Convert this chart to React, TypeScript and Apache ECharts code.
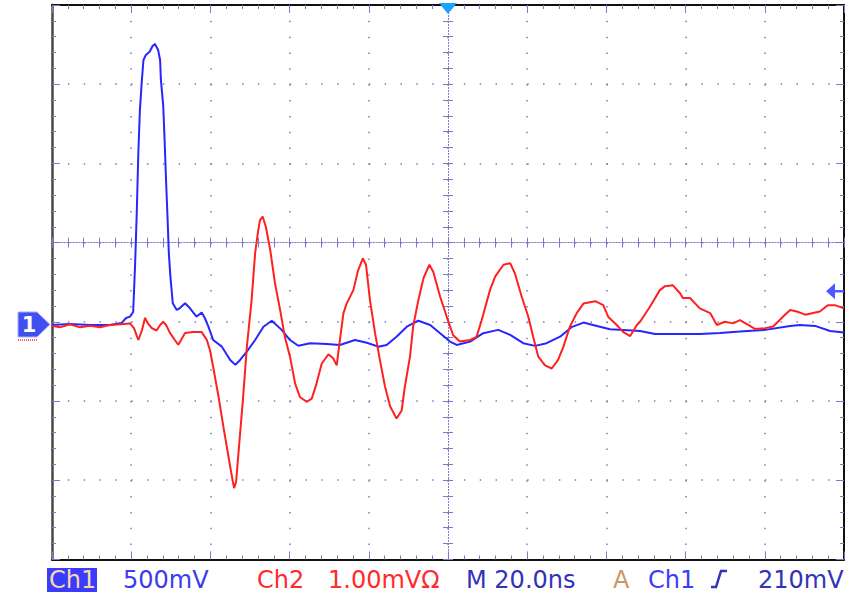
import React, { useEffect, useRef } from "react";
import * as echarts from "echarts";

// Channel 1 (blue, 500 mV/div) — time in ns, value in mV relative to its ground
const ch1Time = [0, 4.5, 9.6, 14.6, 17.6, 18.7, 19.7, 20.5, 21.0, 21.4, 21.8, 22.2, 22.7, 23.1, 23.7, 24.7, 25.4, 26.0, 26.8, 27.3, 27.5, 28.1, 28.4, 28.8, 29.2, 29.5, 29.9, 30.5, 31.5, 32.3, 33.6, 34.8, 36.5, 37.8, 38.6, 39.5, 40.7, 42.9, 45.0, 46.3, 47.5, 49.2, 51.3, 53.4, 55.5, 58.0, 60.1, 62.2, 65.2, 69.4, 72.7, 76.5, 79.5, 82.4, 84.5, 87.0, 89.6, 92.5, 95.5, 98.0, 100.5, 102.2, 105.6, 108.9, 112.7, 115.7, 119.0, 122.0, 124.9, 128.3, 131.2, 134.2, 137.6, 140.9, 144.3, 148.5, 152.3, 158.6, 163.6, 168.7, 173.7, 180.1, 186.4, 188.9, 192.7, 196.5, 200];
const ch1mV = [-3, 3, -3, -3, 10, 41, 50, 79, 389, 704, 1083, 1355, 1544, 1670, 1702, 1723, 1758, 1771, 1733, 1670, 1544, 1375, 1186, 911, 659, 452, 302, 134, 92, 104, 134, 104, 50, 75, 41, -14, -98, -140, -224, -255, -224, -171, -98, -14, 24, -34, -98, -134, -118, -123, -129, -98, -115, -140, -129, -77, -14, 24, -3, -55, -108, -129, -108, -55, -34, -66, -118, -135, -118, -77, -17, 12, -9, -30, -34, -41, -60, -60, -60, -53, -45, -34, -9, -3, -9, -41, -51];

// Channel 2 (red, 1.00 mV/div)
const ch2Time = [0, 2.0, 4.5, 7.1, 9.6, 12.1, 14.6, 17.2, 19.7, 20.7, 21.8, 22.7, 23.5, 24.2, 25.2, 26.4, 27.3, 28.1, 28.8, 29.8, 31.0, 31.9, 32.8, 33.6, 35.6, 37.8, 39.1, 39.9, 40.7, 42.0, 43.3, 45.0, 45.6, 46.0, 46.5, 46.8, 47.5, 48.2, 49.2, 50.4, 51.3, 52.0, 52.5, 53.2, 54.0, 55.1, 56.3, 57.6, 58.8, 60.1, 61.4, 62.6, 64.3, 65.6, 66.8, 68.1, 69.8, 71.0, 71.9, 72.7, 73.6, 74.4, 76.1, 77.3, 78.5, 79.3, 80.3, 81.6, 82.8, 84.1, 85.4, 87.0, 88.3, 89.1, 90.4, 91.2, 92.5, 93.8, 95.3, 96.3, 98.0, 99.7, 101.3, 103.0, 105.6, 107.2, 108.5, 110.6, 111.9, 114.0, 115.7, 116.9, 118.6, 120.3, 121.5, 122.8, 124.5, 126.2, 127.8, 129.1, 130.8, 132.5, 134.2, 137.2, 139.2, 140.5, 142.6, 144.3, 146.0, 147.7, 148.5, 151.0, 153.5, 154.8, 156.8, 158.6, 159.3, 161.1, 163.6, 166.2, 167.9, 169.9, 172.0, 173.7, 175.8, 177.5, 180.1, 182.1, 185.1, 186.4, 188.1, 190.2, 193.9, 195.9, 197.7, 200];
const ch2mV = [0.01, -0.01, 0.03, -0.01, 0.01, -0.01, 0.02, 0.03, 0.04, -0.02, -0.17, -0.05, 0.11, 0.04, -0.02, -0.05, 0.02, 0.06, 0.02, -0.08, -0.17, -0.23, -0.15, -0.08, -0.07, -0.07, -0.17, -0.30, -0.51, -0.87, -1.27, -1.77, -1.94, -2.04, -1.96, -1.77, -1.35, -0.93, -0.26, 0.33, 0.93, 1.19, 1.34, 1.39, 1.26, 0.97, 0.55, 0.21, -0.13, -0.38, -0.72, -0.89, -0.95, -0.91, -0.72, -0.47, -0.35, -0.40, -0.49, -0.17, 0.17, 0.29, 0.46, 0.71, 0.86, 0.78, 0.33, -0.09, -0.42, -0.76, -1.01, -1.16, -1.06, -0.76, -0.38, 0.00, 0.33, 0.61, 0.78, 0.69, 0.38, 0.12, -0.11, -0.19, -0.17, -0.13, 0.08, 0.46, 0.63, 0.78, 0.80, 0.67, 0.38, 0.12, -0.13, -0.38, -0.49, -0.53, -0.42, -0.26, 0.00, 0.17, 0.29, 0.32, 0.27, 0.12, 0.02, -0.07, -0.12, 0.02, 0.06, 0.25, 0.46, 0.51, 0.52, 0.42, 0.36, 0.36, 0.23, 0.17, 0.02, 0.06, 0.04, 0.08, 0.02, -0.03, -0.02, 0.00, 0.15, 0.21, 0.19, 0.15, 0.19, 0.27, 0.27, 0.23];

const statusTexts = ["Ch1", "500mV", "Ch2", "1.00mVΩ", "M 20.0ns", "A", "Ch1", "210mV"];
const statusX = [49, 123, 257, 328, 466, 613, 648, 758];
const statusColors = ["#f6d9a6", "#3b3bf0", "#ff2b2b", "#ff2b2b", "#3333b8", "#c89868", "#3b3bff", "#3333b8"];

const triggerLevelMv = 210;
const triggerTimeNs = 100;

const DOT = "#7a7ac8";

export default function App() {
  const ref = useRef<HTMLDivElement>(null);
  useEffect(() => {
    if (!ref.current) return;
    const chart = echarts.init(ref.current, null, { renderer: "svg" });
    const gridTop = 5;
    const gridLeft = 52;
    const div = 79.2;
    const gridH = 7 * div;
    const gridW = 10 * div;
    const centerY = gridTop + 3 * div;
    const centerX = gridLeft + 5 * div;
    const dotStyle = { color: DOT, width: 1.5, type: [1.5, div / 5 - 1.5] };

    const frameX = (pos: string, extra: any = {}) => ({
      type: "value",
      position: pos,
      min: 0,
      max: 200,
      interval: 20,
      axisLabel: { show: false },
      axisLine: { show: true, onZero: false, lineStyle: { color: "#111", width: 2 } },
      axisTick: { show: true, inside: true, length: 8, lineStyle: { color: DOT, width: 1 } },
      minorTick: { show: true, splitNumber: 5, length: 4, lineStyle: { color: DOT, width: 1 } },
      splitLine: { show: false },
      ...extra,
    });
    const frameY = (pos: string, extra: any = {}) => ({
      type: "value",
      position: pos,
      min: -4,
      max: 3,
      interval: 1,
      axisLabel: { show: false },
      axisLine: { show: true, onZero: false, lineStyle: { color: "#111", width: 2 } },
      axisTick: { show: true, inside: true, length: 8, lineStyle: { color: DOT, width: 1 } },
      minorTick: { show: true, splitNumber: 5, length: 4, lineStyle: { color: DOT, width: 1 } },
      splitLine: { show: false },
      ...extra,
    });
    const centerTick = (inside: boolean) => ({
      axisLine: { show: true, onZero: false, lineStyle: { color: DOT, width: 1, type: [1, 2] } },
      axisTick: { show: true, inside, length: 5, lineStyle: { color: DOT, width: 1 } },
      minorTick: { show: true, splitNumber: 5, length: 5, lineStyle: { color: DOT, width: 1 } },
    });

    chart.setOption({
      animation: false,
      backgroundColor: "#ffffff",
      grid: { left: gridLeft, top: gridTop, width: gridW, height: gridH, containLabel: false },
      xAxis: [
        frameX("bottom", { splitLine: { show: true, lineStyle: dotStyle } }),
        frameX("top"),
        frameX("top", { offset: -(centerY - gridTop), ...centerTick(true) }),
        frameX("top", { offset: -(centerY - gridTop), ...centerTick(false) }),
      ],
      yAxis: [
        { type: "value", min: -1483, max: 2017, show: false, axisLine: { onZero: false } },
        { type: "value", min: -2.94, max: 4.06, show: false, axisLine: { onZero: false } },
        frameY("left", {
          axisLine: { show: true, onZero: false, lineStyle: { color: "#484848", width: 2.5 } },
          splitLine: { show: true, lineStyle: dotStyle },
        }),
        frameY("right"),
        frameY("left", { offset: -(centerX - gridLeft), ...centerTick(true) }),
        frameY("left", { offset: -(centerX - gridLeft), ...centerTick(false) }),
      ],
      series: [
        {
          name: "Ch1",
          type: "line",
          xAxisIndex: 0,
          yAxisIndex: 0,
          showSymbol: false,
          data: ch1Time.map((t, i) => [t, ch1mV[i]]),
          lineStyle: { color: "#2626ff", width: 2 },
          itemStyle: { color: "#2626ff" },
          z: 3,
        },
        {
          name: "Ch2",
          type: "line",
          xAxisIndex: 0,
          yAxisIndex: 1,
          showSymbol: false,
          data: ch2Time.map((t, i) => [t, ch2mV[i]]),
          lineStyle: { color: "#ff2020", width: 2 },
          itemStyle: { color: "#ff2020" },
          z: 4,
        },
      ],
    });

    const groundY = chart.convertToPixel({ yAxisIndex: 0 }, 0) as number;
    const levelY = chart.convertToPixel({ yAxisIndex: 0 }, triggerLevelMv) as number;
    const trigX = chart.convertToPixel({ xAxisIndex: 0 }, triggerTimeNs) as number;
    const font = '24px "DejaVu Sans"';

    const graphics: any[] = [
      { type: "polygon", shape: { points: [[trigX - 9, 3], [trigX + 9, 3], [trigX, 14]] }, style: { fill: "#1ea0ff" }, z: 10 },
      { type: "polygon", shape: { points: [[826, levelY], [835, levelY - 8], [835, levelY + 8]] }, style: { fill: "#4a5aff" }, z: 10 },
      { type: "line", shape: { x1: 834, y1: levelY, x2: 844, y2: levelY }, style: { stroke: "#4a5aff", lineWidth: 2.5 }, z: 10 },
      { type: "line", shape: { x1: 18, y1: groundY + 15.5, x2: 38, y2: groundY + 15.5 }, style: { stroke: "#ff3030", lineWidth: 1.5, lineDash: [1, 1] }, z: 9 },
      {
        type: "polygon",
        shape: { points: [[18, groundY - 12.5], [37, groundY - 12.5], [50, groundY], [37, groundY + 12.5], [18, groundY + 12.5]] },
        style: { fill: "#3f4ff0", stroke: "#a8b0ff", lineWidth: 1 },
        z: 10,
      },
      { type: "text", x: 29, y: groundY + 1, style: { text: "1", fill: "#ffffff", font: 'bold 21px "DejaVu Sans"', align: "center", verticalAlign: "middle" }, z: 11 },
      { type: "rect", shape: { x: 47, y: 568, width: 50, height: 24 }, style: { fill: "#3b3bff" }, z: 10 },
      { type: "polyline", shape: { points: [[711, 587], [716, 587], [721, 571], [727, 571]] }, style: { stroke: "#3333b8", lineWidth: 2.5, fill: "none" }, z: 11 },
    ];
    statusTexts.forEach((txt, i) => {
      graphics.push({
        type: "text",
        x: statusX[i],
        y: 580,
        style: { text: txt, fill: statusColors[i], font, align: "left", verticalAlign: "middle" },
        z: 11,
      });
    });
    chart.setOption({ graphic: graphics });

    return () => chart.dispose();
  }, []);

  return <div ref={ref} style={{ position: "fixed", left: 0, top: 0, width: 855, height: 596 }} />;
}
